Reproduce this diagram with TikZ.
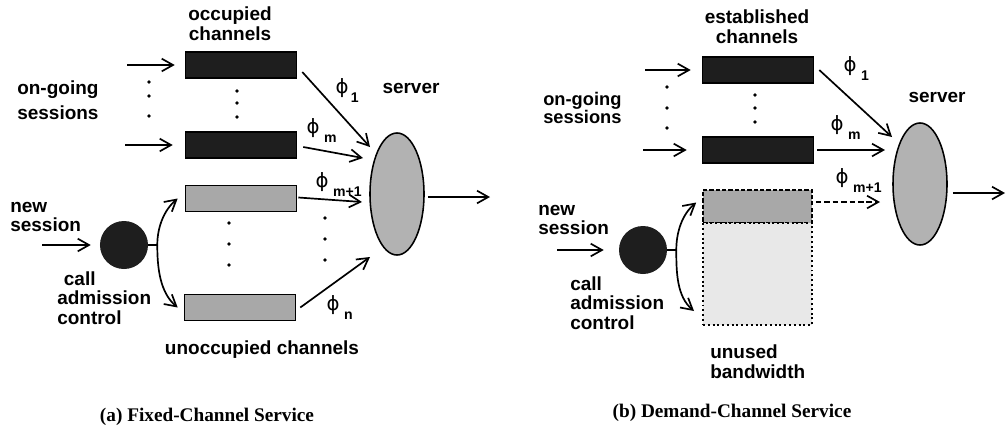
\documentclass[tikz,border=0pt]{standalone}
\usepackage{fontspec}
\setmainfont{Liberation Serif}
\setsansfont{Liberation Sans}
\newfontfamily\grkfont{DejaVu Sans}
\usetikzlibrary{shapes.geometric,arrows.meta,calc,positioning}
\definecolor{chanblack}{RGB}{30,30,30}
\definecolor{changray}{RGB}{168,168,168}
\definecolor{srvgray}{RGB}{178,178,178}
\definecolor{unusedgray}{RGB}{232,232,232}
\newcommand{\phsub}[1]{{\grkfont\fontsize{14}{14}\selectfont ϕ}\rlap{\smash{\,\raisebox{-6.5pt}{\sffamily\bfseries\fontsize{10}{10}\selectfont #1}}}}

\begin{document}
\begin{tikzpicture}[x=0.025cm,y=-0.025cm,
  arr/.style={-{Straight Barb[length=8pt,width=9pt]},line width=1.2pt},
  txt/.style={font=\sffamily\bfseries\fontsize{13.5}{14}\selectfont,align=left,inner sep=0pt},
  captxt/.style={font=\bfseries\fontsize{13.7}{16}\selectfont,inner sep=0pt},
  phl/.style={inner sep=0pt},
  chanblk/.style={draw,line width=1.1pt,fill=chanblack,minimum width=2.775cm,minimum height=0.65cm,inner sep=0pt},
  changry/.style={draw,line width=1.1pt,fill=changray,minimum width=2.775cm,minimum height=0.65cm,inner sep=0pt},
  srv/.style={draw,ellipse,line width=1.1pt,fill=srvgray,minimum width=1.35cm,minimum height=3.05cm,inner sep=0pt},
  cac/.style={circle,fill=chanblack,minimum size=1.2cm,inner sep=0pt},
  dot/.style={fill=black}]
\useasboundingbox[fill=white] (0,0) rectangle (1006,437);

\node[chanblk] (a1) at (241,65) {};
\node[chanblk] (a2) at (241,145) {};
\node[changry] (a3) at (241,198.5) {};
\node[changry] (a4) at (240,307.5) {};
\node[srv] (sa) at (397,194) {};
\node[cac] (ca) at (124,245) {};
\node[txt,align=center] (occA) at (230,24) {occupied\\channels};
\node[txt,anchor=west,font=\sffamily\bfseries\fontsize{13.5}{17.5}\selectfont] (ongA) at (17,100) {on-going\\sessions};
\node[txt] (srvA) at (411,88) {server};
\node[txt,anchor=west] (newA) at (10,217) {new\\session};
\node[txt,anchor=west] (cacA) at (57,298) {\hspace{0.35em}call\\admission\\control};
\node[txt] (unoccA) at (262,350) {unoccupied channels};
\node[captxt] (capA) at (207,417) {(a) Fixed-Channel Service};
\node[phl] (p1A) at (342,88) {\phsub{1}};
\node[phl] (pmA) at (313,128) {\phsub{\,m}};
\node[phl] (pm1A) at (322,182) {\phsub{\,m+1}};
\node[phl] (pnA) at (333,305) {\phsub{\,n}};
\coordinate (inA1) at (127,65);
\coordinate (inA2) at (125,145);
\coordinate (inCA) at (42,245);
\coordinate (outA) at (490,197);
\draw[arr] (inA1) -- ([shift={(-10,0)}]a1.west);
\draw[arr] (inA2) -- ([shift={(-12,0)}]a2.west);
\draw[arr] (inCA) -- ([shift={(-9,0)}]ca.west);
\draw[line width=1.2pt] (ca.east) -- ++(9,0) coordinate (brA);
\draw[arr] (brA) to[out=90,in=220,looseness=0.9] ([shift={(-7,0)}]a3.west);
\draw[arr] (brA) to[out=-90,in=140,looseness=0.9] ([shift={(-6,0)}]a4.west);
\draw[arr] ([shift={(5,7)}]a1.east) -- ([shift={(-27,-47)}]sa.center);
\draw[arr] ([shift={(6,2)}]a2.east) -- ([shift={(-34,-36)}]sa.center);
\draw[arr] ([shift={(1,-1)}]a3.east) -- ([shift={(-35,8)}]sa.center);
\draw[arr] ([shift={(4,0)}]a4.east) -- ([shift={(-27,63)}]sa.center);
\draw[arr] ([shift={(3,3)}]sa.east) -- (outA);
\foreach \y in {82,96,116} \fill[dot] (149,\y) circle (1.9);
\foreach \y in {91,103,117} \fill[dot] (237,\y) circle (1.9);
\foreach \y in {223,244,265} \fill[dot] (229,\y) circle (1.9);
\foreach \y in {218,239,260} \fill[dot] (325,\y) circle (1.9);

\node[chanblk] (b1) at (758,70) {};
\node[chanblk] (b2) at (758,150) {};
\node[draw,line width=1.1pt,dash pattern=on 3pt off 1.5pt,fill=changray,minimum width=2.725cm,minimum height=0.825cm,inner sep=0pt] (b3) at (757.5,206.5) {};
\node[draw,line width=1.4pt,dash pattern=on 1.4pt off 2pt,fill=unusedgray,minimum width=2.725cm,minimum height=2.55cm,inner sep=0pt] (b4) at (757.5,274) {};
\node[srv] (sb) at (920,184) {};
\node[cac] (cb) at (643,250) {};
\node[txt,align=center] (estB) at (757,27) {established\\channels};
\node[txt,anchor=west,font=\sffamily\bfseries\fontsize{13}{12.8}\selectfont] (ongB) at (543,108) {on-going\\sessions};
\node[txt] (srvB) at (937,97) {server};
\node[txt,anchor=west] (newB) at (538,220) {new\\session};
\node[txt,anchor=west] (cacB) at (570,303) {call\\admission\\control};
\node[txt,anchor=west] (unusedB) at (710,362) {unused\\bandwidth};
\node[captxt] (capB) at (732,413) {(b) Demand-Channel Service};
\node[phl] (p1B) at (850,66) {\phsub{\,1}};
\node[phl] (pmB) at (837,125) {\phsub{\,m}};
\node[phl] (pm1B) at (842,178) {\phsub{\,m+1}};
\coordinate (inB1) at (645,70);
\coordinate (inB2) at (643,150);
\coordinate (inCB) at (557,250);
\coordinate (outB) at (1005,193);
\draw[arr] (inB1) -- ([shift={(-11,0)}]b1.west);
\draw[arr] (inB2) -- ([shift={(-15,0)}]b2.west);
\draw[arr] (inCB) -- ([shift={(-15,0)}]cb.west);
\draw[line width=1.2pt] (cb.east) -- ++(9,0) coordinate (brB);
\draw[arr] (brB) to[out=90,in=220,looseness=0.9] ([shift={(-6,-4)}]b3.west);
\draw[arr] (brB) to[out=-90,in=140,looseness=0.9] ([shift={(-8,-15)}]b4.south west);
\draw[arr] ([shift={(5,0)}]b1.east) -- ([shift={(-28,-47)}]sb.center);
\draw[arr] ([shift={(3,0)}]b2.east) -- ([shift={(-35,-34)}]sb.center);
\draw[arr,dash pattern=on 4pt off 2pt] ([shift={(3,-4.5)}]b3.east) -- ([shift={(-40,18)}]sb.center);
\draw[arr] ([shift={(5,9)}]sb.east) -- (outB);
\foreach \y in {87,108,128} \fill[dot] (667,\y) circle (1.9);
\foreach \y in {95,108,122} \fill[dot] (755,\y) circle (1.9);
\end{tikzpicture}
\end{document}
